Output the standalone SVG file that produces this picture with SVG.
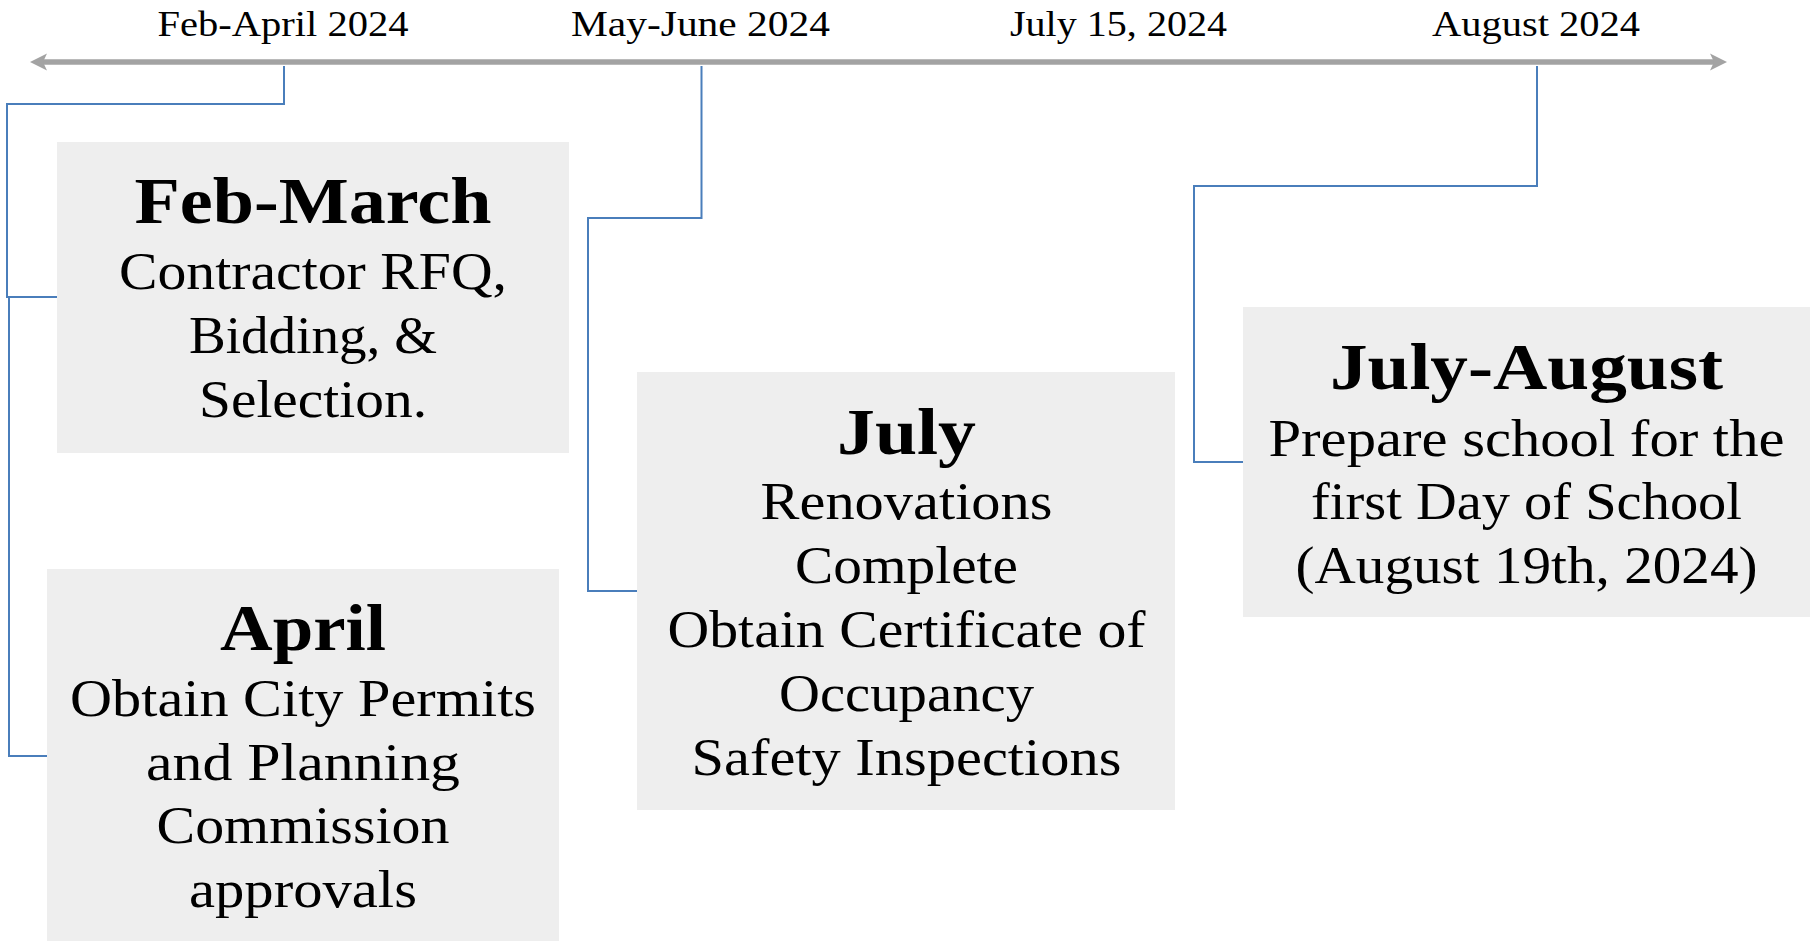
<svg xmlns="http://www.w3.org/2000/svg" width="1812" height="941" viewBox="0 0 1812 941">
<style>
.box{fill:#eeeeee}
.lbl{font-family:"Liberation Serif","Times New Roman",serif;font-size:36px;fill:#000;text-anchor:middle}
.ttl{font-family:"Liberation Serif","Times New Roman",serif;font-size:65px;font-weight:bold;fill:#000;text-anchor:middle}
.txt{font-family:"Liberation Serif","Times New Roman",serif;font-size:53px;fill:#000;text-anchor:middle}
.con{fill:none;stroke:#4a7ebb;stroke-width:2}
.axis{stroke:#a3a3a3;stroke-width:5.5;fill:none}
</style>
<defs>
<marker id="ah" markerUnits="userSpaceOnUse" markerWidth="30" markerHeight="30" refX="-12" refY="0" orient="auto-start-reverse" overflow="visible">
<path d="M 0 0 L -17 -8.5 L -13 0 L -17 8.5 Z" fill="#a3a3a3"/>
</marker>
</defs>
<g id="timeline">
<line class="axis" x1="42" y1="62" x2="1715" y2="62" marker-start="url(#ah)" marker-end="url(#ah)"/>
<text class="lbl" x="283" y="36" textLength="251" lengthAdjust="spacingAndGlyphs">Feb-April 2024</text>
<text class="lbl" x="700.5" y="36" textLength="259" lengthAdjust="spacingAndGlyphs">May-June 2024</text>
<text class="lbl" x="1118.5" y="36" textLength="217" lengthAdjust="spacingAndGlyphs">July 15, 2024</text>
<text class="lbl" x="1536" y="36" textLength="208" lengthAdjust="spacingAndGlyphs">August 2024</text>
</g>
<g id="connectors">
<polyline class="con" points="284,66 284,104 7,104 7,297 57,297"/>
<polyline class="con" points="9,297 9,756 47,756"/>
<polyline class="con" points="701.5,66 701.5,218 588,218 588,591 637,591"/>
<polyline class="con" points="1537,66 1537,186 1194,186 1194,462 1243,462"/>
</g>
<g id="feb-march">
<rect class="box" x="57" y="142" width="512" height="311"/>
<text class="ttl" x="313" y="223" textLength="357" lengthAdjust="spacingAndGlyphs">Feb-March</text>
<text class="txt" x="313" y="289" textLength="388" lengthAdjust="spacingAndGlyphs">Contractor RFQ,</text>
<text class="txt" x="313" y="353" textLength="248" lengthAdjust="spacingAndGlyphs">Bidding, &amp;</text>
<text class="txt" x="313" y="417" textLength="228" lengthAdjust="spacingAndGlyphs">Selection.</text>
</g>
<g id="april">
<rect class="box" x="47" y="569" width="512" height="372"/>
<text class="ttl" x="303" y="650" textLength="166" lengthAdjust="spacingAndGlyphs">April</text>
<text class="txt" x="303" y="716" textLength="466" lengthAdjust="spacingAndGlyphs">Obtain City Permits</text>
<text class="txt" x="303" y="779.5" textLength="314" lengthAdjust="spacingAndGlyphs">and Planning</text>
<text class="txt" x="303" y="843" textLength="293" lengthAdjust="spacingAndGlyphs">Commission</text>
<text class="txt" x="303" y="907" textLength="228" lengthAdjust="spacingAndGlyphs">approvals</text>
</g>
<g id="july">
<rect class="box" x="637" y="372" width="538" height="438"/>
<text class="ttl" x="906.5" y="454" textLength="139" lengthAdjust="spacingAndGlyphs">July</text>
<text class="txt" x="906.5" y="519" textLength="292" lengthAdjust="spacingAndGlyphs">Renovations</text>
<text class="txt" x="906.5" y="583" textLength="223" lengthAdjust="spacingAndGlyphs">Complete</text>
<text class="txt" x="906.5" y="647" textLength="478" lengthAdjust="spacingAndGlyphs">Obtain Certificate of</text>
<text class="txt" x="906.5" y="711" textLength="255" lengthAdjust="spacingAndGlyphs">Occupancy</text>
<text class="txt" x="906.5" y="775" textLength="430" lengthAdjust="spacingAndGlyphs">Safety Inspections</text>
</g>
<g id="july-august">
<rect class="box" x="1243" y="307" width="567" height="310"/>
<text class="ttl" x="1526.5" y="389" textLength="393" lengthAdjust="spacingAndGlyphs">July-August</text>
<text class="txt" x="1526.5" y="455.5" textLength="516" lengthAdjust="spacingAndGlyphs">Prepare school for the</text>
<text class="txt" x="1526.5" y="519" textLength="431" lengthAdjust="spacingAndGlyphs">first Day of School</text>
<text class="txt" x="1526.5" y="583" textLength="462" lengthAdjust="spacingAndGlyphs">(August 19th, 2024)</text>
</g>
</svg>
